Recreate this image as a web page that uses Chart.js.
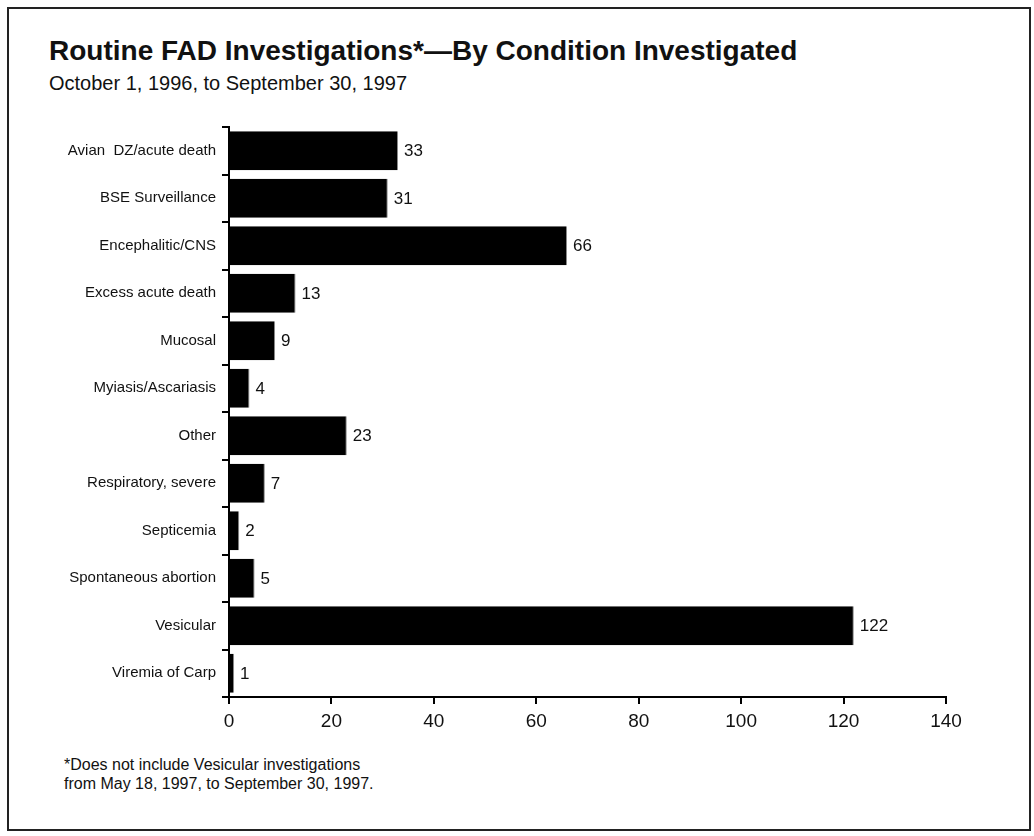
<!DOCTYPE html>
<html>
<head>
<meta charset="utf-8">
<title>Routine FAD Investigations</title>
<script src="https://cdn.jsdelivr.net/npm/chart.js@4.4.1/dist/chart.umd.min.js"></script>
<style>
  html, body { margin: 0; padding: 0; background: #fff; }
  body { width: 1034px; height: 836px; position: relative; overflow: hidden;
         font-family: Arial, "Liberation Sans", sans-serif; color: #111; }
  #frame { position: absolute; left: 7px; top: 7px; width: 1020px; height: 820px;
           border: 2px solid #222; }
  #title { position: absolute; left: 49px; top: 34px; font-size: 28px; font-weight: bold;
           line-height: 34px; white-space: nowrap; }
  #subtitle { position: absolute; left: 49px; top: 71px; font-size: 20px;
              line-height: 24px; white-space: nowrap; }
  #note { position: absolute; left: 64px; top: 755px; font-size: 16px; line-height: 19px; }
  #wrap { position: absolute; left: 0; top: 0; width: 1034px; height: 836px; }
</style>
</head>
<body>
<div id="frame"></div>
<div id="title">Routine FAD Investigations*—By Condition Investigated</div>
<div id="subtitle">October 1, 1996, to September 30, 1997</div>
<div id="note">*Does not include Vesicular investigations<br>from May 18, 1997, to September 30, 1997.</div>
<div id="wrap"><canvas id="fadChart"></canvas></div>

<script>
/* ===================== DATA ===================== */
const conditions = [
  "Avian  DZ/acute death",
  "BSE Surveillance",
  "Encephalitic/CNS",
  "Excess acute death",
  "Mucosal",
  "Myiasis/Ascariasis",
  "Other",
  "Respiratory, severe",
  "Septicemia",
  "Spontaneous abortion",
  "Vesicular",
  "Viremia of Carp"
];
const investigations = [33, 31, 66, 13, 9, 4, 23, 7, 2, 5, 122, 1];
const axisMin = 0;
const axisMax = 140;
const axisStep = 20;

const FONT = "Arial, 'Liberation Sans', sans-serif";

/* ===================== PLUGINS ===================== */
// numbers printed just right of each bar
const valueLabels = {
  id: "valueLabels",
  afterDatasetsDraw(chart) {
    const ctx = chart.ctx;
    const meta = chart.getDatasetMeta(0);
    ctx.save();
    ctx.font = "17px " + FONT;
    ctx.fillStyle = "#111";
    ctx.textAlign = "left";
    ctx.textBaseline = "middle";
    meta.data.forEach((bar, i) => {
      ctx.fillText(String(investigations[i]), bar.x + 6, bar.y + 1);
    });
    ctx.restore();
  }
};

/* ===================== CHART ===================== */
new Chart(document.getElementById("fadChart"), {
  type: "bar",
  data: {
    labels: conditions,
    datasets: [{
      data: investigations,
      backgroundColor: "#000",
      borderColor: "#8a8a8a",
      borderWidth: { top: 0, right: 1, bottom: 0, left: 0 },
      borderSkipped: "start",
      barPercentage: 0.82,
      categoryPercentage: 1
    }]
  },
  options: {
    indexAxis: "y",
    responsive: true,
    maintainAspectRatio: false,
    animation: false,
    layout: {
      padding: { top: 127, right: 88, bottom: 99, left: 0 }
    },
    plugins: {
      legend: { display: false },
      tooltip: { enabled: false }
    },
    scales: {
      y: {
        offset: true,
        afterFit(scale) { scale.width = 229; },
        border: { color: "#000", width: 2 },
        grid: {
          offset: true,
          drawOnChartArea: false,
          drawTicks: true,
          tickLength: 7,
          color: "#000",
          lineWidth: 2
        },
        ticks: {
          color: "#111",
          padding: 6,
          autoSkip: false,
          font: { size: 15, family: FONT }
        }
      },
      x: {
        min: axisMin,
        max: axisMax,
        afterFit(scale) { scale.height = 40; },
        border: { color: "#000", width: 2 },
        grid: {
          drawOnChartArea: false,
          drawTicks: true,
          tickLength: 7,
          color: "#000",
          lineWidth: 2
        },
        ticks: {
          stepSize: axisStep,
          color: "#111",
          padding: 6,
          font: { size: 19, family: FONT }
        }
      }
    }
  },
  plugins: [valueLabels]
});
</script>
</body>
</html>
